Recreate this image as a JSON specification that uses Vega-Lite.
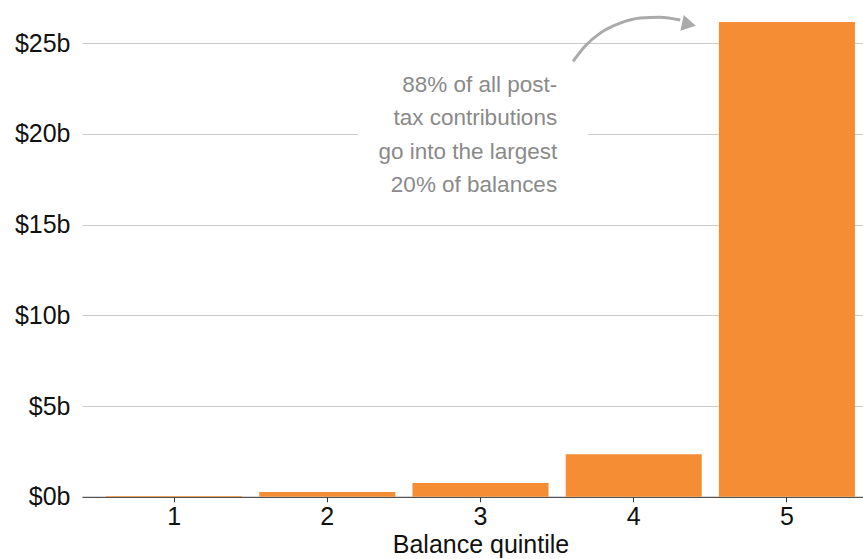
{
  "$schema": "https://vega.github.io/schema/vega-lite/v6.json",
  "width": 797,
  "height": 489.8,
  "autosize": "none",
  "padding": {"left": 82, "top": 7, "right": 0, "bottom": 63},
  "config": {
    "view": {"stroke": null},
    "font": "Liberation Sans"
  },
  "datasets": {
    "bars": [
      {"quintile": "1", "contrib": 0.05},
      {"quintile": "2", "contrib": 0.26},
      {"quintile": "3", "contrib": 0.755},
      {"quintile": "4", "contrib": 2.35},
      {"quintile": "5", "contrib": 26.18}
    ],
    "arrow": [
      {"i": 1, "q": 3.604, "v": 24.0},
      {"i": 2, "q": 3.683, "v": 24.85},
      {"i": 3, "q": 3.781, "v": 25.56},
      {"i": 4, "q": 3.911, "v": 26.11},
      {"i": 5, "q": 4.042, "v": 26.39},
      {"i": 6, "q": 4.172, "v": 26.44},
      {"i": 7, "q": 4.303, "v": 26.28}
    ],
    "head": [{"q": 4.36, "v": 26.05}],
    "note": [{"q": 3.5, "v": 22.7, "q0": 2.2, "q1": 3.7, "v0": 16.0, "v1": 23.6, "label": "88% of all post-\ntax contributions\ngo into the largest\n20% of balances"}]
  },
  "layer": [
    {
      "data": {"name": "bars"},
      "mark": {"type": "bar", "color": "#F58D35"},
      "encoding": {
        "x": {
          "field": "quintile", "type": "nominal",
          "scale": {"paddingInner": 0.112, "paddingOuter": 0.157},
          "axis": {
            "title": "Balance quintile", "labelAngle": 0,
            "labelFontSize": 25, "labelColor": "#111", "labelPadding": 3,
            "tickSize": 5, "tickColor": "#333", "domainColor": "#333",
            "titleFontSize": 25, "titleFontWeight": "normal", "titleColor": "#111", "titlePadding": 3
          }
        },
        "y": {
          "field": "contrib", "type": "quantitative",
          "scale": {"domain": [0, 27], "nice": false},
          "axis": {
            "title": null, "values": [0, 5, 10, 15, 20, 25],
            "labelExpr": "'$' + datum.value + 'b'",
            "labelFontSize": 25, "labelColor": "#111", "labelPadding": 12,
            "domain": false, "ticks": false,
            "gridColor": "#cccccc", "gridWidth": 1
          }
        }
      }
    },
    {
      "data": {"name": "note"},
      "mark": {"type": "rect", "color": "white"},
      "encoding": {
        "x": {"field": "q0", "type": "quantitative", "scale": {"domain": [0.4, 5.6], "nice": false, "zero": false}, "axis": null},
        "x2": {"field": "q1"},
        "y": {"field": "v0", "type": "quantitative"},
        "y2": {"field": "v1"}
      }
    },
    {
      "data": {"name": "note"},
      "mark": {"type": "text", "align": "right", "baseline": "middle", "lineBreak": "\n", "lineHeight": 33.5, "fontSize": 22.5, "color": "#8a8a8a"},
      "encoding": {
        "x": {"field": "q", "type": "quantitative", "scale": {"domain": [0.4, 5.6], "nice": false, "zero": false}, "axis": null},
        "y": {"field": "v", "type": "quantitative"},
        "text": {"field": "label"}
      }
    },
    {
      "data": {"name": "arrow"},
      "mark": {"type": "line", "color": "#aaaaaa", "strokeWidth": 3, "interpolate": "monotone"},
      "encoding": {
        "x": {"field": "q", "type": "quantitative", "scale": {"domain": [0.4, 5.6], "nice": false, "zero": false}, "axis": null},
        "y": {"field": "v", "type": "quantitative"},
        "order": {"field": "i"}
      }
    },
    {
      "data": {"name": "head"},
      "mark": {"type": "point", "shape": "triangle-right", "filled": true, "color": "#aaaaaa", "opacity": 1, "size": 260, "angle": 12},
      "encoding": {
        "x": {"field": "q", "type": "quantitative", "scale": {"domain": [0.4, 5.6], "nice": false, "zero": false}, "axis": null},
        "y": {"field": "v", "type": "quantitative"}
      }
    }
  ],
  "resolve": {"scale": {"x": "independent"}, "axis": {"x": "independent"}}
}
